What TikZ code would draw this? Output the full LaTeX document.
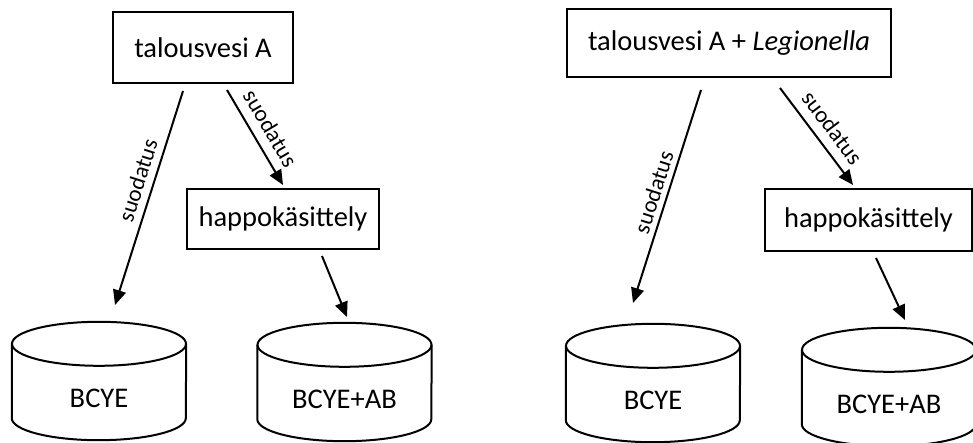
\documentclass[tikz,border=0pt]{standalone}
\usepackage{fontspec}
\setmainfont{Carlito}
\usetikzlibrary{arrows.meta,calc,positioning}
\tikzset{
  box/.style={draw,line width=2pt,inner sep=0pt,font=\fontsize{28.5}{34}\selectfont},
  plate/.style={inner sep=0pt,minimum width=174pt,minimum height=84pt,font=\fontsize{28.5}{34}\selectfont},
  flow/.style={line width=2pt,-{Triangle[length=15pt,width=13pt]}},
  lbl/.style={sloped,anchor=south,outer sep=0pt,inner sep=#1,font=\fontsize{23}{28}\selectfont},
  lbl/.default=8pt
}
\newcommand{\platedraw}[1]{%
  \draw[line width=2pt] ([yshift=12pt]#1.north) ellipse [x radius=87pt, y radius=22pt];
  \draw[line width=2pt] ([yshift=12pt]#1.north west) -- ([yshift=22pt]#1.south west)
     arc[start angle=180,end angle=360,x radius=87pt,y radius=22pt] -- ([yshift=12pt]#1.north east);
}

\begin{document}
\begin{tikzpicture}[x=1pt,y=-1pt]
  \useasboundingbox (0,0) rectangle (973,443);
  % vasen puoli
  \node[box,minimum width=180pt,minimum height=71pt] (vesiA) at (203,47.5) {talousvesi A};
  \node[box,minimum width=192pt,minimum height=60pt] (happoA) at (283,219) {happokäsittely};
  \node[plate] (bcyeA) at (99,398) {BCYE};
  \node[plate] (abA) at (344.5,399) {BCYE+AB};
  \platedraw{bcyeA}
  \platedraw{abA}
  \coordinate (a1s) at (183,91);  \coordinate (a1e) at (115,305);
  \coordinate (a2s) at (227,90);  \coordinate (a2e) at (283,185);
  \coordinate (a3s) at (322,256); \coordinate (a3e) at (347,317);
  \draw[flow] (a1s) -- node[lbl=8pt,pos=.44] {suodatus} (a1e);
  \draw[flow] (a2s) -- node[lbl=10pt,pos=.50] {suodatus} (a2e);
  \draw[flow] (a3s) -- (a3e);
  % oikea puoli
  \node[box,minimum width=324pt,minimum height=68pt] (vesiL) at (729,43) {talousvesi A + \textit{Legionella}};
  \node[box,minimum width=207pt,minimum height=62pt] (happoL) at (868.5,220) {happokäsittely};
  \node[plate] (bcyeL) at (653,400) {BCYE};
  \node[plate] (abL) at (889,404) {BCYE+AB};
  \platedraw{bcyeL}
  \platedraw{abL}
  \coordinate (a4s) at (701,90);  \coordinate (a4e) at (633,303);
  \coordinate (a5s) at (780,88);  \coordinate (a5e) at (853,185);
  \coordinate (a6s) at (876,258); \coordinate (a6e) at (905,320);
  \draw[flow] (a4s) -- node[lbl=6pt,pos=.50] {suodatus} (a4e);
  \draw[flow] (a5s) -- node[lbl=10pt,pos=.52] {suodatus} (a5e);
  \draw[flow] (a6s) -- (a6e);
\end{tikzpicture}
\end{document}
